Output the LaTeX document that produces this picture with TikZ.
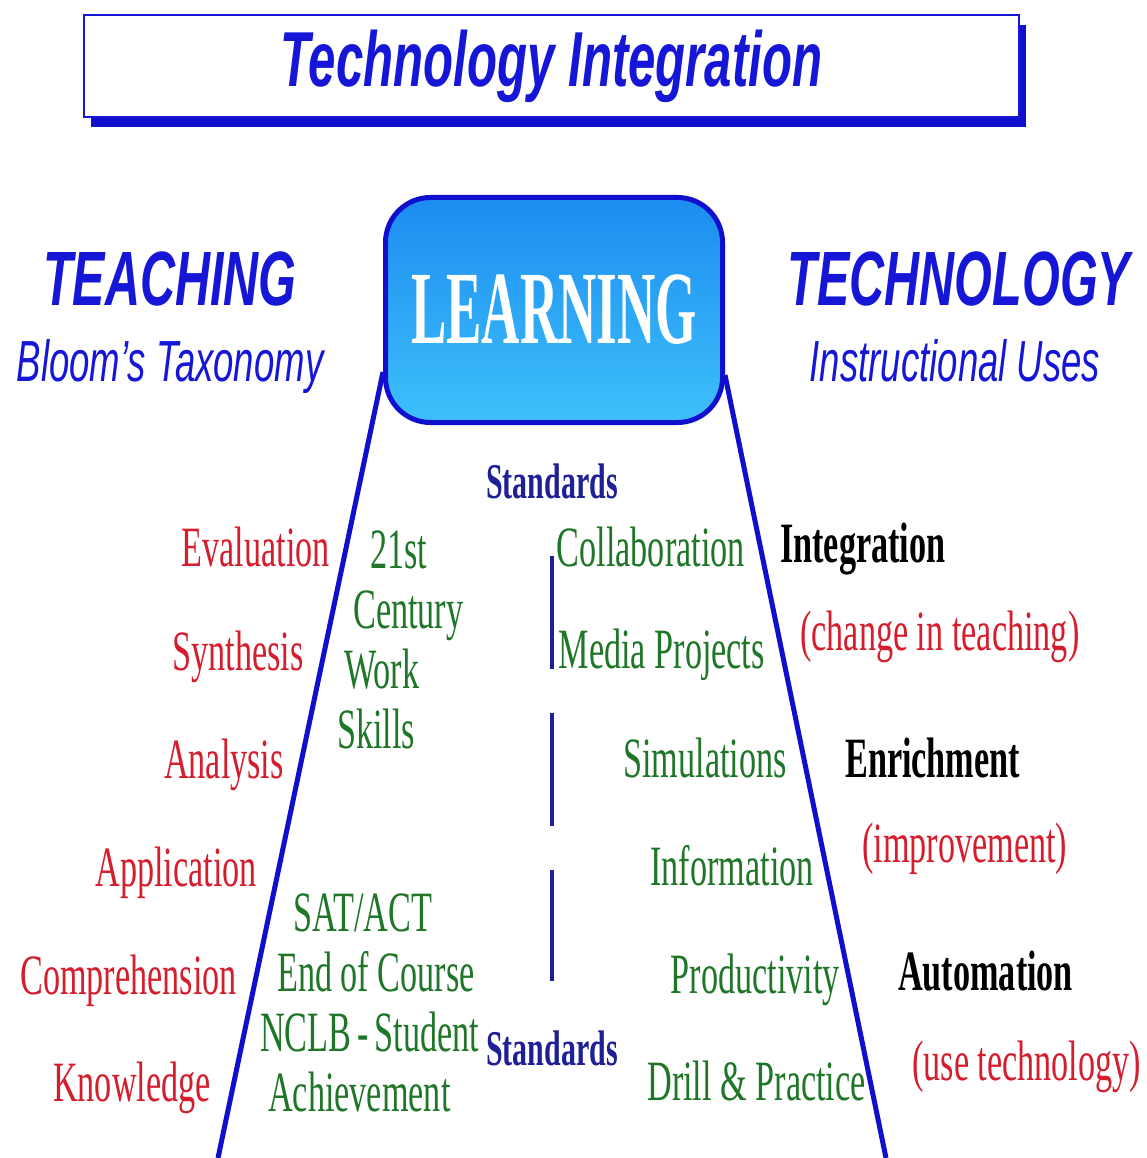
\documentclass[tikz,border=0pt]{standalone}
\usepackage{fontspec}
\setmainfont{Liberation Serif}[FakeStretch=0.6]
\newfontfamily\headfont{Liberation Sans}[FakeStretch=0.63]
\newfontfamily\boxfont{Liberation Serif}[FakeStretch=0.51]
\definecolor{headblue}{RGB}{22, 22, 214}
\definecolor{lineblue}{RGB}{15, 15, 205}
\definecolor{stdblue}{RGB}{32, 32, 150}
\definecolor{bloomred}{RGB}{212, 30, 46}
\definecolor{skillgreen}{RGB}{32, 118, 40}
\definecolor{usetop}{RGB}{28, 140, 240}
\definecolor{usebot}{RGB}{62, 192, 250}
\usetikzlibrary{calc, shadows}

\begin{document}
\begin{tikzpicture}[x=1pt, y=-1pt,
    txt/.style={inner sep=0pt, font=\fontsize{57}{60}\selectfont},
    bloom/.style={txt, anchor=base east, text=bloomred},
    skill/.style={txt, anchor=base east, text=skillgreen},
    block/.style={txt, anchor=north west, align=left, text=skillgreen},
    level/.style={txt, anchor=base west, font=\fontsize{57}{60}\selectfont\bfseries},
    hint/.style={txt, anchor=base west, text=bloomred},
    std/.style={inner sep=0pt, text=stdblue, font=\fontsize{50}{52}\selectfont\bfseries},
    side/.style={inner sep=0pt, anchor=base, text=headblue}]
  \useasboundingbox[fill=white] (0,0) rectangle (1147,1158);

  % title
  \node[draw=headblue, line width=2pt, fill=white, minimum width=935pt, minimum height=102pt,
        drop shadow={shadow xshift=7pt, shadow yshift=-10pt, fill=lineblue, opacity=1},
        text=headblue, font=\headfont\fontsize{78}{80}\selectfont\bfseries\itshape] (title) at (551.5,66) {Technology Integration};

  % the three columns
  \node[side, font=\headfont\fontsize{77}{80}\selectfont\bfseries\itshape] (teach) at (170,305) {TEACHING};
  \node[side, font=\headfont\fontsize{58}{60}\selectfont\itshape] (bloom) at (170,381) {Bloom’s Taxonomy};
  \node[side, font=\headfont\fontsize{77}{80}\selectfont\bfseries\itshape] (tech) at (959,305) {TECHNOLOGY};
  \node[side, font=\headfont\fontsize{58}{60}\selectfont\itshape] (uses) at (955,381) {Instructional Uses};

  \node[draw=lineblue, line width=5pt, rounded corners=45pt, top color=usetop, bottom color=usebot,
        minimum width=337pt, minimum height=225pt, text=white,
        font=\boxfont\fontsize{104}{106}\selectfont\bfseries] (learning) at (554,310) {LEARNING};

  \coordinate (lbot) at (218,1158);
  \coordinate (rbot) at (886,1158);
  \draw[lineblue, line width=5pt] ($(learning.west)+(0,62)$) -- (lbot);
  \draw[lineblue, line width=5pt] ($(learning.east)+(0,65)$) -- (rbot);

  % standards
  \node[std, anchor=base] (stdtop) at (552,498) {Standards};
  \node[std, anchor=base] (stdbot) at (552,1065) {Standards};
  \draw[stdblue, line width=4pt, dash pattern=on 113pt off 44pt, shorten <=57pt, shorten >=49pt]
    (stdtop.south) -- (stdbot.north);

  % Bloom's levels
  \node[bloom] (eval) at (330,566) {Evaluation};
  \node[bloom] (synth) at (304,670) {Synthesis};
  \node[bloom] (anal) at (284,778) {Analysis};
  \node[bloom] (appl) at (257,886) {Application};
  \node[bloom] (comp) at (237,994) {Comprehension};
  \node[bloom] (know) at (211,1101) {Knowledge};

  \node[block] (skills) at (337,531) {\hspace{33pt}21st\\\hspace{16pt}Century\\\hspace{7pt}Work\\Skills};
  \node[block] (tests) at (260,894) {\hspace{33pt}SAT/ACT\\\hspace{17pt}End of Course\\NCLB\hspace{6pt}-\hspace{6pt}Student\\\hspace{8pt}Achievement};

  % uses
  \node[skill] (collab) at (745,566) {Collaboration};
  \node[skill] (media) at (765,668) {Media Projects};
  \node[skill] (sim) at (787,777) {Simulations};
  \node[skill] (info) at (814,885) {Information};
  \node[skill] (prod) at (840,993) {Productivity};
  \node[skill] (drill) at (866,1100) {Drill \& Practice};

  \node[level] (integ) at (780,562) {Integration};
  \node[hint] (change) at (800,650) {(change in teaching)};
  \node[level] (enrich) at (845,777) {Enrichment};
  \node[hint] (improve) at (862,862) {(improvement)};
  \node[level] (auto) at (898,990) {Automation};
  \node[hint] (usetech) at (912,1080) {(use technology)};
\end{tikzpicture}
\end{document}
